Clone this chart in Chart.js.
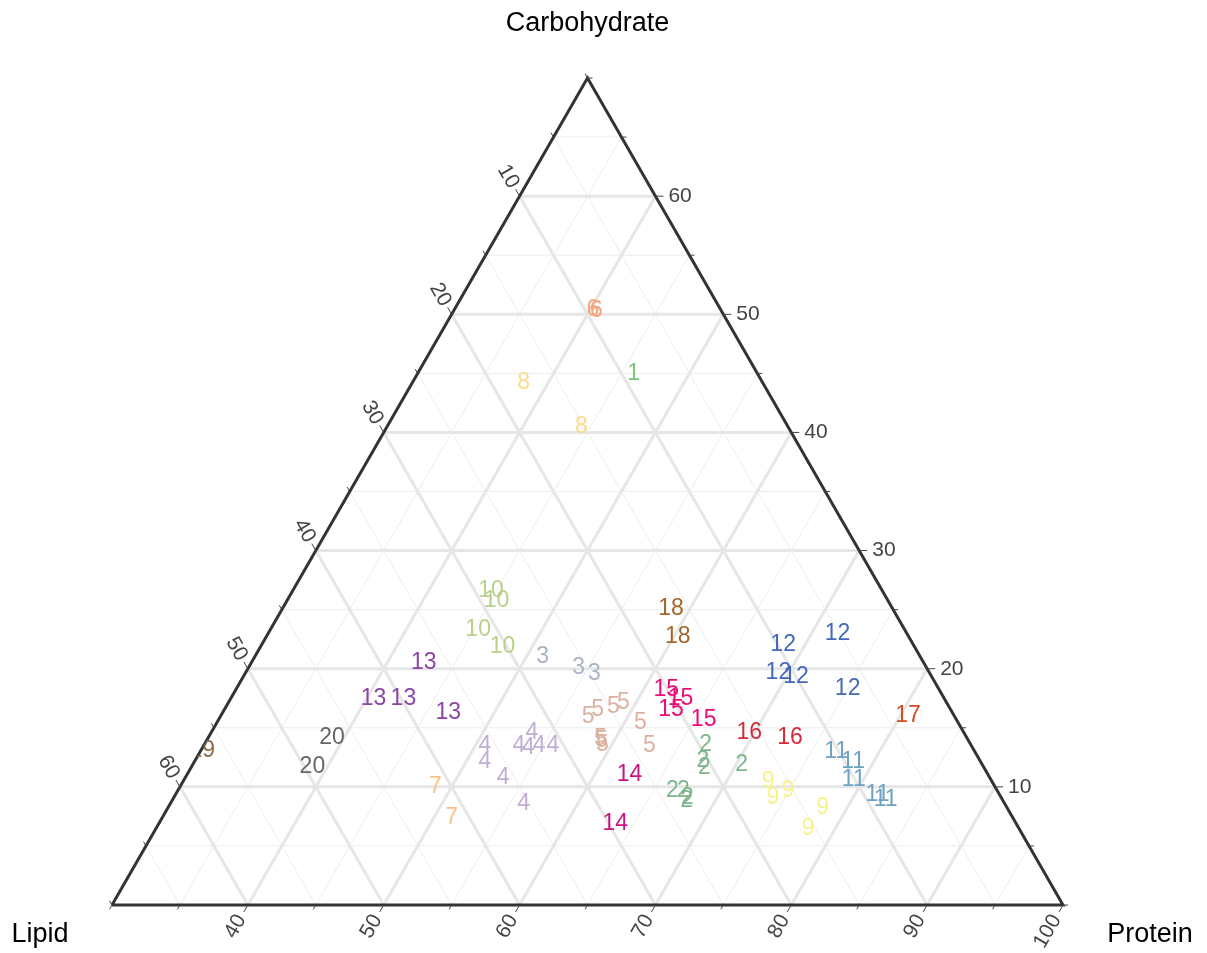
<!DOCTYPE html>
<html>
<head>
<meta charset="utf-8">
<script src="https://cdn.jsdelivr.net/npm/chart.js@4.4.1/dist/chart.umd.min.js"></script>
<style>
  html, body { margin: 0; padding: 0; background: #fff; }
  #wrap { width: 1207px; height: 953px; }
</style>
</head>
<body>
<div id="wrap"><canvas id="ternaryChart" width="1207" height="953"></canvas></div>
<script>
// sample compositions in % (protein + lipid + carbohydrate = 100)
var groups = [1,
  2, 2, 2, 2, 2, 2, 2, 2,
  3, 3, 3,
  4, 4, 4, 4, 4, 4, 4, 4, 4,
  5, 5, 5, 5, 5, 5, 5, 5, 5,
  6, 6, 7, 7, 8, 8,
  9, 9, 9, 9, 9,
  10, 10, 10, 10,
  11, 11, 11, 11, 11,
  12, 12, 12, 12, 12,
  13, 13, 13, 13,
  14, 14, 15, 15, 15, 15, 16, 16, 17, 18, 18, 19, 20, 20];
var protein = [45.9,
  66.9, 67.4, 67.8, 70.4, 66.4, 67.2, 67.8, 67.9,
  51.2, 54.3, 55.7,
  50.7, 51.4, 53.4, 56.0, 53.6, 53.2, 54.0, 54.7, 55.7,
  57.1, 57.5, 58.5, 59.1, 61.2, 62.8, 58.9, 59.1, 59.3,
  40.2, 40.5, 48.8, 51.3, 38.2, 44.3,
  73.1, 74.1, 74.9, 78.2, 78.0,
  44.6, 45.4, 45.3, 47.8,
  76.8, 78.5, 79.3, 81.7, 82.5,
  68.4, 71.9, 69.2, 70.7, 75.0,
  42.7, 40.5, 42.7, 46.6,
  62.6, 63.6, 61.7, 63.1, 62.9, 65.7, 69.6, 72.8, 80.6, 58.6, 60.3, 30.1, 39.1, 38.9];
var lipid = [9.1,
  19.5, 20.4, 20.6, 17.7, 23.9, 23.1, 23.1, 23.3,
  27.8, 25.6, 24.7,
  35.8, 36.5, 35.8, 35.4, 31.8, 33.3, 32.7, 31.8, 30.8,
  27.0, 26.0, 24.7, 23.8, 23.4, 23.7, 27.0, 27.0, 27.1,
  9.4, 9.2, 41.2, 41.3, 17.6, 15.2,
  16.5, 16.8, 15.4, 13.6, 15.5,
  28.8, 28.8, 31.4, 30.3,
  10.2, 9.4, 10.1, 9.0, 8.6,
  9.6, 5.1, 11.1, 10.0, 6.7,
  36.8, 42.0, 39.8, 37.1,
  26.4, 29.5, 20.1, 19.4, 20.6, 18.6, 15.8, 13.0, 3.4, 16.3, 17.0, 56.8, 46.7, 49.4];
var carbohydrate = [45.0,
  13.6, 12.2, 11.6, 11.9, 9.7, 9.7, 9.1, 8.8,
  21.0, 20.1, 19.6,
  13.5, 12.1, 10.8, 8.6, 14.6, 13.5, 13.3, 13.5, 13.5,
  15.9, 16.5, 16.8, 17.1, 15.4, 13.5, 14.1, 13.9, 13.6,
  50.4, 50.3, 10.0, 7.4, 44.2, 40.5,
  10.4, 9.1, 9.7, 8.2, 6.5,
  26.6, 25.8, 23.3, 21.9,
  13.0, 12.1, 10.6, 9.3, 8.9,
  22.0, 23.0, 19.7, 19.3, 18.3,
  20.5, 17.5, 17.5, 16.3,
  11.0, 6.9, 18.2, 17.5, 16.5, 15.7, 14.6, 14.2, 16.0, 25.1, 22.7, 13.1, 14.2, 11.7];

var proteinTicks = [40, 50, 60, 70, 80, 90, 100];
var lipidTicks = [10, 20, 30, 40, 50, 60];
var carbTicks = [10, 20, 30, 40, 50, 60];
var proteinMin = 30;
var axisSpan = 70;

var groupColors = {
  1: '#7cc47a', 2: '#7fb58c', 3: '#a9b3c6', 4: '#beaed4', 5: '#dcb1a2',
  6: '#f2a47c', 7: '#fdc086', 8: '#fddb8a', 9: '#f7f28a', 10: '#b7d08c',
  11: '#6fa2c2', 12: '#4469b6', 13: '#8b44a6', 14: '#c9147f', 15: '#ee0a74',
  16: '#d72a3c', 17: '#d4491f', 18: '#a5652a', 19: '#8d6a48', 20: '#666666'
};

var H = Math.sqrt(3) / 2;
var FONT = '"Liberation Sans", Arial, sans-serif';

// ternary -> plane coordinates (0..1 on x, 0..H on y)
function toXY(p, l, c) {
  var a = c / axisSpan;
  var pc = (p - proteinMin) / axisSpan;
  return { x: pc + a / 2, y: a * H };
}

var datasets = [];
function gridLine(p1, p2, major) {
  datasets.push({
    data: [p1, p2], showLine: true, pointRadius: 0, pointHitRadius: 0,
    borderColor: major ? '#e6e6e6' : '#ededed', borderWidth: major ? 3 : 1,
    order: major ? 3 : 4
  });
}
for (var v = 5; v < axisSpan; v += 5) {
  var major = (v % 10 === 0);
  var pv = proteinMin + v;
  gridLine(toXY(proteinMin, axisSpan - v, v), toXY(100 - v, 0, v), major); // carbohydrate = v
  gridLine(toXY(100 - v, v, 0), toXY(proteinMin, v, axisSpan - v), major); // lipid = v
  gridLine(toXY(pv, 100 - pv, 0), toXY(pv, 0, 100 - pv), major);         // protein = pv
}

var frame = [toXY(30, 70, 0), toXY(100, 0, 0), toXY(30, 0, 70), toXY(30, 70, 0)];
datasets.push({ data: frame, showLine: true, borderColor: '#333', borderWidth: 3,
  pointRadius: 0, pointHitRadius: 0, clip: false, order: 2 });

var samplePoints = [];
for (var i = 0; i < groups.length; i++) {
  samplePoints.push(toXY(protein[i], lipid[i], carbohydrate[i]));
}
var sampleIndex = datasets.length;
datasets.push({ data: samplePoints, showLine: false, pointRadius: 0, pointHitRadius: 0, order: 1 });

var ternaryDecor = {
  id: 'ternaryDecor',
  afterDatasetsDraw: function (chart) {
    var ctx = chart.ctx;
    var xs = chart.scales.x, ys = chart.scales.y;
    function px(pt) { return { x: xs.getPixelForValue(pt.x), y: ys.getPixelForValue(pt.y) }; }

    // text labels for each sample, clipped to the triangle
    var c1 = px(frame[0]), c2 = px(frame[1]), c3 = px(frame[2]);
    var meta = chart.getDatasetMeta(sampleIndex);
    ctx.save();
    ctx.beginPath();
    ctx.moveTo(c1.x, c1.y); ctx.lineTo(c2.x, c2.y); ctx.lineTo(c3.x, c3.y); ctx.closePath();
    ctx.clip();
    ctx.font = '23px ' + FONT;
    ctx.textAlign = 'center';
    ctx.textBaseline = 'middle';
    meta.data.forEach(function (el, k) {
      ctx.fillStyle = groupColors[groups[k]];
      ctx.fillText(String(groups[k]), el.x, el.y);
    });
    ctx.restore();

    // ticks and tick labels
    ctx.save();
    ctx.strokeStyle = '#444';
    ctx.fillStyle = '#444';
    ctx.lineWidth = 1;
    ctx.font = '21px ' + FONT;
    ctx.textBaseline = 'middle';
    function tick(p, dx, dy, len) {
      ctx.beginPath();
      ctx.moveTo(p.x, p.y);
      ctx.lineTo(p.x + dx * len, p.y + dy * len);
      ctx.stroke();
    }
    function label(p, dx, dy, off, rot, align, txt) {
      ctx.save();
      ctx.translate(p.x + dx * off, p.y + dy * off);
      ctx.rotate(rot);
      ctx.textAlign = align;
      ctx.fillText(txt, 0, 0);
      ctx.restore();
    }
    for (var v = 0; v <= axisSpan; v += 5) {
      var pc = px(toXY(100 - v, 0, v));
      tick(pc, 1, 0, carbTicks.indexOf(v) >= 0 ? 8 : 5);
      if (carbTicks.indexOf(v) >= 0) label(pc, 1, 0, 13, 0, 'left', String(v));

      var pl = px(toXY(proteinMin, v, axisSpan - v));
      tick(pl, -0.5, -H, lipidTicks.indexOf(v) >= 0 ? 8 : 5);
      if (lipidTicks.indexOf(v) >= 0) label(pl, -0.5, -H, 11, Math.PI / 3, 'right', String(v));

      var pv = proteinMin + v;
      var pp = px(toXY(pv, 100 - pv, 0));
      tick(pp, -0.5, H, proteinTicks.indexOf(pv) >= 0 ? 8 : 5);
      if (proteinTicks.indexOf(pv) >= 0) label(pp, -0.5, H, 13, -Math.PI / 3, 'right', String(pv));
    }
    ctx.restore();

    // axis titles
    ctx.save();
    ctx.fillStyle = '#000';
    ctx.font = '27px ' + FONT;
    ctx.textAlign = 'center';
    ctx.textBaseline = 'middle';
    ctx.fillText('Carbohydrate', c3.x, 24);
    ctx.fillText('Lipid', 40, 935);
    ctx.fillText('Protein', 1150, 935);
    ctx.restore();
  }
};

var ctxChart = document.getElementById('ternaryChart').getContext('2d');
var ternaryChart = new Chart(ctxChart, {
  type: 'scatter',
  data: { datasets: datasets },
  options: {
    responsive: false,
    animation: false,
    events: [],
    layout: { padding: { left: 112, right: 144, top: 78, bottom: 48 } },
    plugins: { legend: { display: false }, tooltip: { enabled: false } },
    scales: {
      x: { type: 'linear', min: 0, max: 1, display: false },
      y: { type: 'linear', min: 0, max: H, display: false }
    }
  },
  plugins: [ternaryDecor]
});
</script>
</body>
</html>
